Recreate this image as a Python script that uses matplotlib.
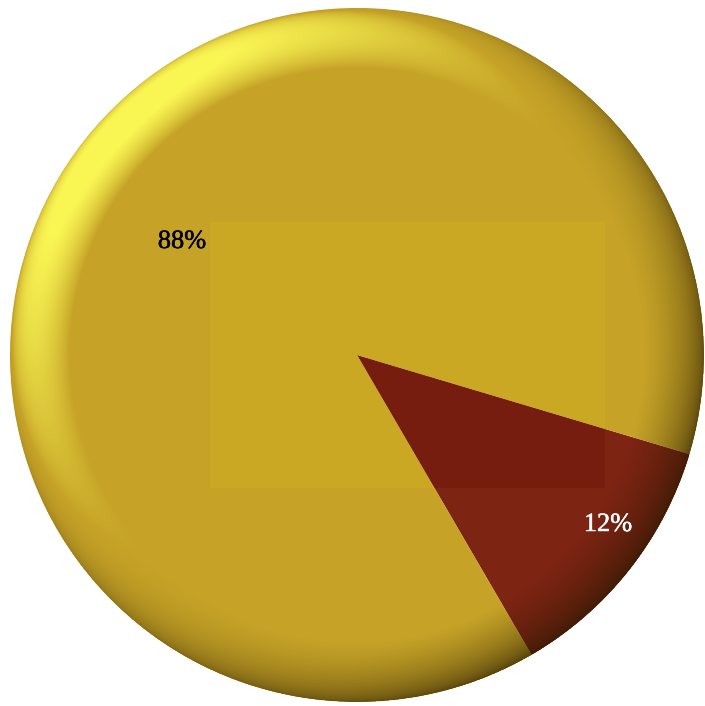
import matplotlib
matplotlib.use("Agg")
import matplotlib.pyplot as plt
import matplotlib.patheffects as pe
import numpy as np
from matplotlib.patches import Circle, Rectangle

# dados da pizza
categorias = ["Outros", "Destaque"]
valores = [12, 88]
cores = ["#7e2413", "#c6a327"]
cores_texto = ["white", "black"]
# posicao dos rotulos (px)
pos_rotulos = [(608, 525), (182, 242)]

W, H = 705, 706
cx, cy, R = 357, H - 355, 347

fig = plt.figure(figsize=(W / 100, H / 100), dpi=100)
ax = fig.add_axes([0, 0, 1, 1])

wedges, _ = ax.pie(valores, colors=cores, startangle=-16.6, counterclock=False,
                   center=(cx, cy), radius=R, frame=True,
                   wedgeprops=dict(linewidth=0))

# retangulo mais claro no meio (artefato da imagem original)
ret = Rectangle((210, H - 488), 395, 266, facecolor="#d8b818", alpha=0.25,
                linewidth=0, zorder=3)
ax.add_patch(ret)
ret.set_clip_path(wedges[1])
ret2 = Rectangle((210, H - 488), 395, 266, facecolor="#6a1008", alpha=0.3,
                 linewidth=0, zorder=3)
ax.add_patch(ret2)
ret2.set_clip_path(wedges[0])

# sombreamento da borda (efeito 3D, borda arredondada iluminada de cima/esquerda)
yy, xx = np.mgrid[0:H, 0:W]
dx = xx + 0.5 - cx
dy = (H - yy - 0.5) - cy
r = np.hypot(dx, dy)
borda = 60.0
f = np.clip((r - (R - borda)) / borda, 0, 1)
phi = np.arcsin(f)
nx = dx / np.maximum(r, 1)
ny = dy / np.maximum(r, 1)
lx, ly, lz = -0.52, 0.50, 0.70
dif = np.sin(phi) * (nx * lx + ny * ly) + (np.cos(phi) - 1) * lz
rgba = np.zeros((H, W, 4))
pos = dif > 0
rgba[pos, 0] = 1.0
rgba[pos, 1] = 1.0
rgba[pos, 2] = 0.35
rgba[pos, 3] = np.clip(dif[pos] * 3.4, 0, 0.9)
neg = ~pos
rgba[neg, 0] = 0.15
rgba[neg, 1] = 0.1
rgba[neg, 2] = 0.0
rgba[neg, 3] = np.clip(-dif[neg] * 0.55, 0, 0.8)
rgba[..., 3] = np.where(r > R, 0, rgba[..., 3])
im = ax.imshow(rgba, extent=(0, W, 0, H), origin="upper", zorder=4,
               interpolation="bilinear")
clip = Circle((cx, cy), R, transform=ax.transData)
im.set_clip_path(clip)

total = sum(valores)
for v, (px, py), c in zip(valores, pos_rotulos, cores_texto):
    ax.text(px, H - py, f"{round(100 * v / total)}%", ha="center", va="center",
            fontsize=19, family=["Liberation Serif", "DejaVu Serif"], color=c,
            zorder=5, path_effects=[pe.withStroke(linewidth=0.35, foreground=c)])

ax.set_xlim(0, W)
ax.set_ylim(0, H)
ax.set_aspect("equal")
ax.axis("off")

fig.savefig("out.png", dpi=100, facecolor="white")
